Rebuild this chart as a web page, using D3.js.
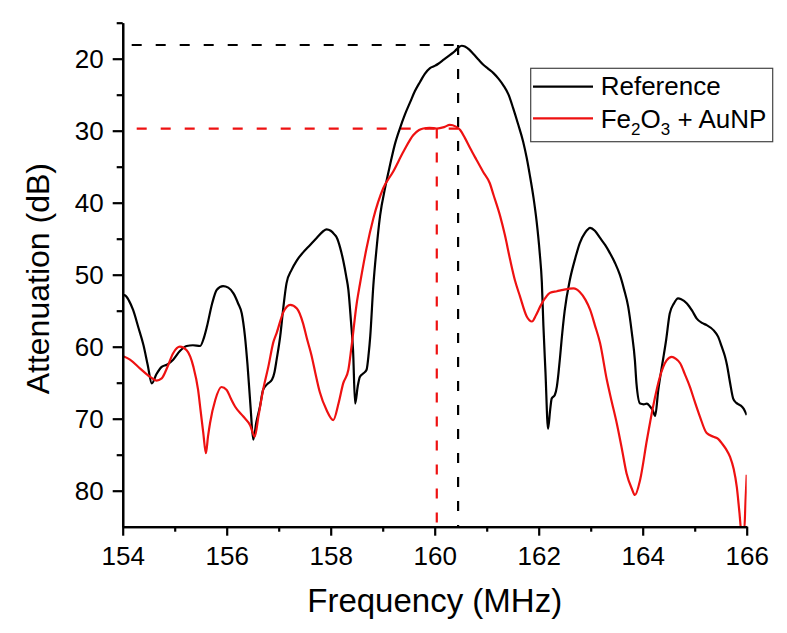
<!DOCTYPE html>
<html><head><meta charset="utf-8">
<script src="https://cdn.jsdelivr.net/npm/d3@7"></script>
<style>
body{margin:0;background:#fff;}
text{font-family:"Liberation Sans",Arial,sans-serif;fill:#000;}
</style>
</head><body>
<svg id="chart" width="787" height="633"></svg>
<script>
// ---- data ----
const seriesNames = ["Reference", "Fe2O3 + AuNP"];
const xTicks = [154, 156, 158, 160, 162, 164, 166];
const xMinorTicks = [155, 157, 159, 161, 163, 165];
const yTicks = [20, 30, 40, 50, 60, 70, 80];
const yMinorTicks = [15, 25, 35, 45, 55, 65, 75];
const refPeak = [160.45, 18.1];      // reference peak (MHz, dB)
const samplePeak = [160.04, 29.7];   // sample peak (MHz, dB)

const referenceData = [
[154.00,52.8],[154.05,52.9],[154.12,53.6],[154.20,54.9],[154.30,57.3],[154.40,59.8],[154.48,62.5],[154.56,65.1],
[154.65,63.8],[154.75,62.8],[154.85,62.5],[154.97,61.8],[155.10,60.6],[155.23,59.9],[155.35,59.8],[155.49,59.9],
[155.56,58.8],[155.62,57.2],[155.72,54.0],[155.81,52.1],[155.93,51.6],[156.03,51.8],[156.13,52.6],[156.22,54.0],
[156.29,55.4],[156.35,58.5],[156.40,62.5],[156.46,68.5],[156.51,72.9],[156.57,70.5],[156.64,68.3],[156.70,66.0],
[156.78,65.2],[156.87,64.6],[156.92,63.5],[156.96,61.8],[157.03,58.5],[157.09,54.5],[157.15,51.2],[157.25,49.3],
[157.35,48.0],[157.47,46.9],[157.60,45.9],[157.73,44.9],[157.85,44.0],[157.92,43.7],[158.00,43.9],[158.07,44.4],
[158.12,44.9],[158.18,46.2],[158.24,48.0],[158.30,50.3],[158.34,52.1],[158.39,56.5],[158.43,60.5],[158.47,67.9],
[158.52,65.5],[158.56,64.2],[158.63,63.7],[158.69,63.2],[158.73,61.0],[158.76,58.6],[158.82,51.5],[158.88,46.5],
[158.95,41.8],[159.05,37.8],[159.14,34.8],[159.23,32.0],[159.33,29.7],[159.43,27.7],[159.53,26.0],[159.62,24.5],
[159.72,23.2],[159.81,22.1],[159.91,21.3],[160.00,21.0],[160.07,20.7],[160.18,20.1],[160.29,19.5],[160.38,19.0],
[160.45,18.5],[160.52,18.2],[160.58,18.3],[160.66,18.7],[160.74,19.3],[160.84,20.1],[160.93,20.8],[161.03,21.4],
[161.13,22.0],[161.23,22.8],[161.32,23.7],[161.42,25.0],[161.51,26.9],[161.60,29.0],[161.70,31.5],[161.77,33.8],
[161.83,36.2],[161.90,39.3],[161.96,42.6],[162.02,47.0],[162.06,51.0],[162.09,57.0],[162.13,63.5],[162.18,71.4],
[162.22,68.8],[162.25,67.2],[162.31,66.7],[162.35,65.5],[162.38,63.7],[162.41,61.5],[162.44,59.1],[162.50,55.0],
[162.60,50.7],[162.70,47.8],[162.79,45.6],[162.89,44.2],[162.99,43.5],[163.08,43.9],[163.18,44.9],[163.28,45.9],
[163.37,47.0],[163.47,48.4],[163.56,50.0],[163.64,52.0],[163.72,54.4],[163.79,58.0],[163.85,61.9],[163.88,65.1],
[163.95,67.9],[164.02,68.0],[164.08,67.9],[164.14,68.3],[164.19,68.8],[164.24,69.6],[164.30,66.0],[164.35,63.6],
[164.40,61.4],[164.45,59.1],[164.52,55.4],[164.60,54.0],[164.68,53.3],[164.74,53.4],[164.85,54.0],[164.95,55.0],
[165.04,56.1],[165.14,56.7],[165.23,57.0],[165.36,57.7],[165.45,58.6],[165.52,60.0],[165.58,61.3],[165.62,62.5],
[165.68,65.0],[165.74,67.2],[165.80,67.8],[165.87,68.1],[165.94,68.6],[166.00,69.5]
];

const sampleData = [
[154.00,61.3],[154.14,61.8],[154.33,63.0],[154.53,64.2],[154.65,64.7],[154.75,64.4],[154.85,63.0],[154.97,60.9],
[155.10,60.0],[155.23,60.5],[155.36,62.8],[155.45,66.0],[155.50,69.0],[155.55,72.0],[155.60,74.8],[155.64,72.5],
[155.68,70.6],[155.78,67.4],[155.90,65.6],[156.00,66.0],[156.08,67.2],[156.16,68.3],[156.32,69.7],[156.45,70.9],
[156.54,72.5],[156.61,69.7],[156.70,66.0],[156.80,62.8],[156.90,59.3],[156.96,58.1],[157.09,55.2],[157.22,54.2],
[157.35,54.7],[157.47,56.8],[157.54,58.8],[157.63,61.2],[157.70,63.5],[157.79,66.3],[157.92,68.8],[158.05,70.2],
[158.15,67.9],[158.24,65.1],[158.34,63.2],[158.40,60.0],[158.50,54.0],[158.56,51.4],[158.69,46.3],[158.82,42.2],
[159.01,38.0],[159.20,35.7],[159.40,32.9],[159.59,30.6],[159.70,29.9],[159.78,29.7],[159.90,29.6],[160.04,29.7],
[160.18,29.5],[160.29,29.2],[160.40,29.4],[160.49,29.9],[160.58,31.0],[160.68,32.4],[160.80,34.0],[160.93,35.7],
[161.06,37.3],[161.13,38.9],[161.26,41.9],[161.35,44.5],[161.45,47.9],[161.54,50.7],[161.64,53.0],[161.77,55.8],
[161.87,56.5],[161.95,55.6],[162.03,54.4],[162.12,53.3],[162.22,52.5],[162.35,52.3],[162.47,52.1],[162.67,51.9],
[162.79,52.4],[162.90,53.5],[162.99,54.9],[163.08,57.0],[163.18,59.5],[163.31,64.6],[163.40,67.5],[163.50,70.6],
[163.60,74.2],[163.69,77.6],[163.79,79.7],[163.85,80.6],[163.95,78.5],[164.08,73.0],[164.20,68.3],[164.33,64.2],
[164.46,61.9],[164.56,61.4],[164.64,61.7],[164.72,62.3],[164.81,63.8],[164.91,65.6],[165.00,67.6],[165.10,69.7],
[165.23,72.0],[165.36,72.5],[165.45,72.8],[165.52,73.4],[165.60,74.2],[165.68,75.3],[165.75,77.0],[165.81,79.5],
[165.86,83.0],[165.90,85.8],[165.95,85.8],[165.98,81.0],[166.00,77.8]
];

const colors = ["#000000", "#ee1111"];

// ---- drawing ----
const svg = d3.select("#chart");
const L = 122.7, R = 746.7, T = 22.7, B = 526.7;
const x = d3.scaleLinear().domain([154, 166]).range([L, R]);
const y = d3.scaleLinear().domain([15, 85]).range([T, B]);

svg.append("rect").attr("width", 787).attr("height", 633).attr("fill", "#fff");

svg.append("defs").append("clipPath").attr("id", "clip")
  .append("rect").attr("x", L).attr("y", T).attr("width", R - L).attr("height", B - T);

// dashed guide lines
const guides = svg.append("g").attr("fill", "none").attr("stroke-width", 2.2).attr("stroke-dasharray", "10,14");
guides.append("path").attr("stroke", colors[0]).attr("stroke-dashoffset", 15)
  .attr("d", `M${x(154)},${y(refPeak[1])}H${x(refPeak[0])}`);
guides.append("path").attr("stroke", colors[0])
  .attr("d", `M${x(refPeak[0])},${y(refPeak[1])}V${y(85)}`);
guides.append("path").attr("stroke", colors[1]).attr("stroke-dashoffset", 10)
  .attr("d", `M${x(154)},${y(samplePeak[1])}H${x(refPeak[0])}`);
guides.append("path").attr("stroke", colors[1])
  .attr("d", `M${x(samplePeak[0])},${y(samplePeak[1])}V${y(85)}`);

const line = d3.line().x(d => x(d[0])).y(d => y(d[1])).curve(d3.curveMonotoneX);
const gLines = svg.append("g").attr("clip-path", "url(#clip)");
[referenceData, sampleData].forEach((data, i) => {
  gLines.append("path").datum(data).attr("fill", "none").attr("stroke", colors[i])
    .attr("stroke-width", 2.2).attr("stroke-linejoin", "round").attr("d", line);
});

// axes
function styleAxis(g) {
  g.select(".domain").attr("stroke", "#000").attr("stroke-width", 2.2);
  g.selectAll(".tick line").attr("stroke", "#000").attr("stroke-width", 2.2);
  g.selectAll(".tick text").attr("font-size", 26).attr("font-family", '"Liberation Sans",Arial,sans-serif').attr("fill", "#000");
}
const yMinor = svg.append("g").attr("transform", `translate(${L},0)`)
  .call(d3.axisLeft(y).tickValues(yMinorTicks).tickSize(6).tickSizeOuter(0).tickFormat(""));
styleAxis(yMinor);
const yAxis = svg.append("g").attr("transform", `translate(${L},0)`)
  .call(d3.axisLeft(y).tickValues(yTicks).tickSize(10).tickSizeOuter(0).tickPadding(9).tickFormat(d3.format("d")));
styleAxis(yAxis);

const xMinor = svg.append("g").attr("transform", `translate(0,${B})`)
  .call(d3.axisBottom(x).tickValues(xMinorTicks).tickSize(5).tickSizeOuter(0).tickFormat(""));
styleAxis(xMinor);
const xAxis = svg.append("g").attr("transform", `translate(0,${B})`)
  .call(d3.axisBottom(x).tickValues(xTicks).tickSize(9).tickSizeOuter(0).tickPadding(11).tickFormat(d3.format("d")));
styleAxis(xAxis);

// axis titles
svg.append("text").attr("x", (L + R) / 2).attr("y", 612).attr("text-anchor", "middle")
  .attr("font-size", 33).text("Frequency (MHz)");
svg.append("text").attr("transform", `translate(49,${(T + B) / 2 + 4}) rotate(-90)`)
  .attr("text-anchor", "middle").attr("font-size", 32).text("Attenuation (dB)");

// legend
const lg = svg.append("g");
lg.append("rect").attr("x", 530.7).attr("y", 68.3).attr("width", 242).attr("height", 73.4)
  .attr("fill", "#fff").attr("stroke", "#444").attr("stroke-width", 1.2);
[86.7, 118.3].forEach((ly, i) => {
  lg.append("line").attr("x1", 533).attr("x2", 593).attr("y1", ly).attr("y2", ly)
    .attr("stroke", colors[i]).attr("stroke-width", 2.2);
});
lg.append("text").attr("x", 600.7).attr("y", 95).attr("font-size", 26).text(seriesNames[0]);
const t2 = lg.append("text").attr("x", 600.7).attr("y", 127.7).attr("font-size", 26);
t2.append("tspan").text("Fe");
t2.append("tspan").attr("font-size", 17).attr("dy", 7).text("2");
t2.append("tspan").attr("dy", -7).text("O");
t2.append("tspan").attr("font-size", 17).attr("dy", 7).text("3");
t2.append("tspan").attr("dy", -7).text(" + AuNP");
</script>
</body></html>
